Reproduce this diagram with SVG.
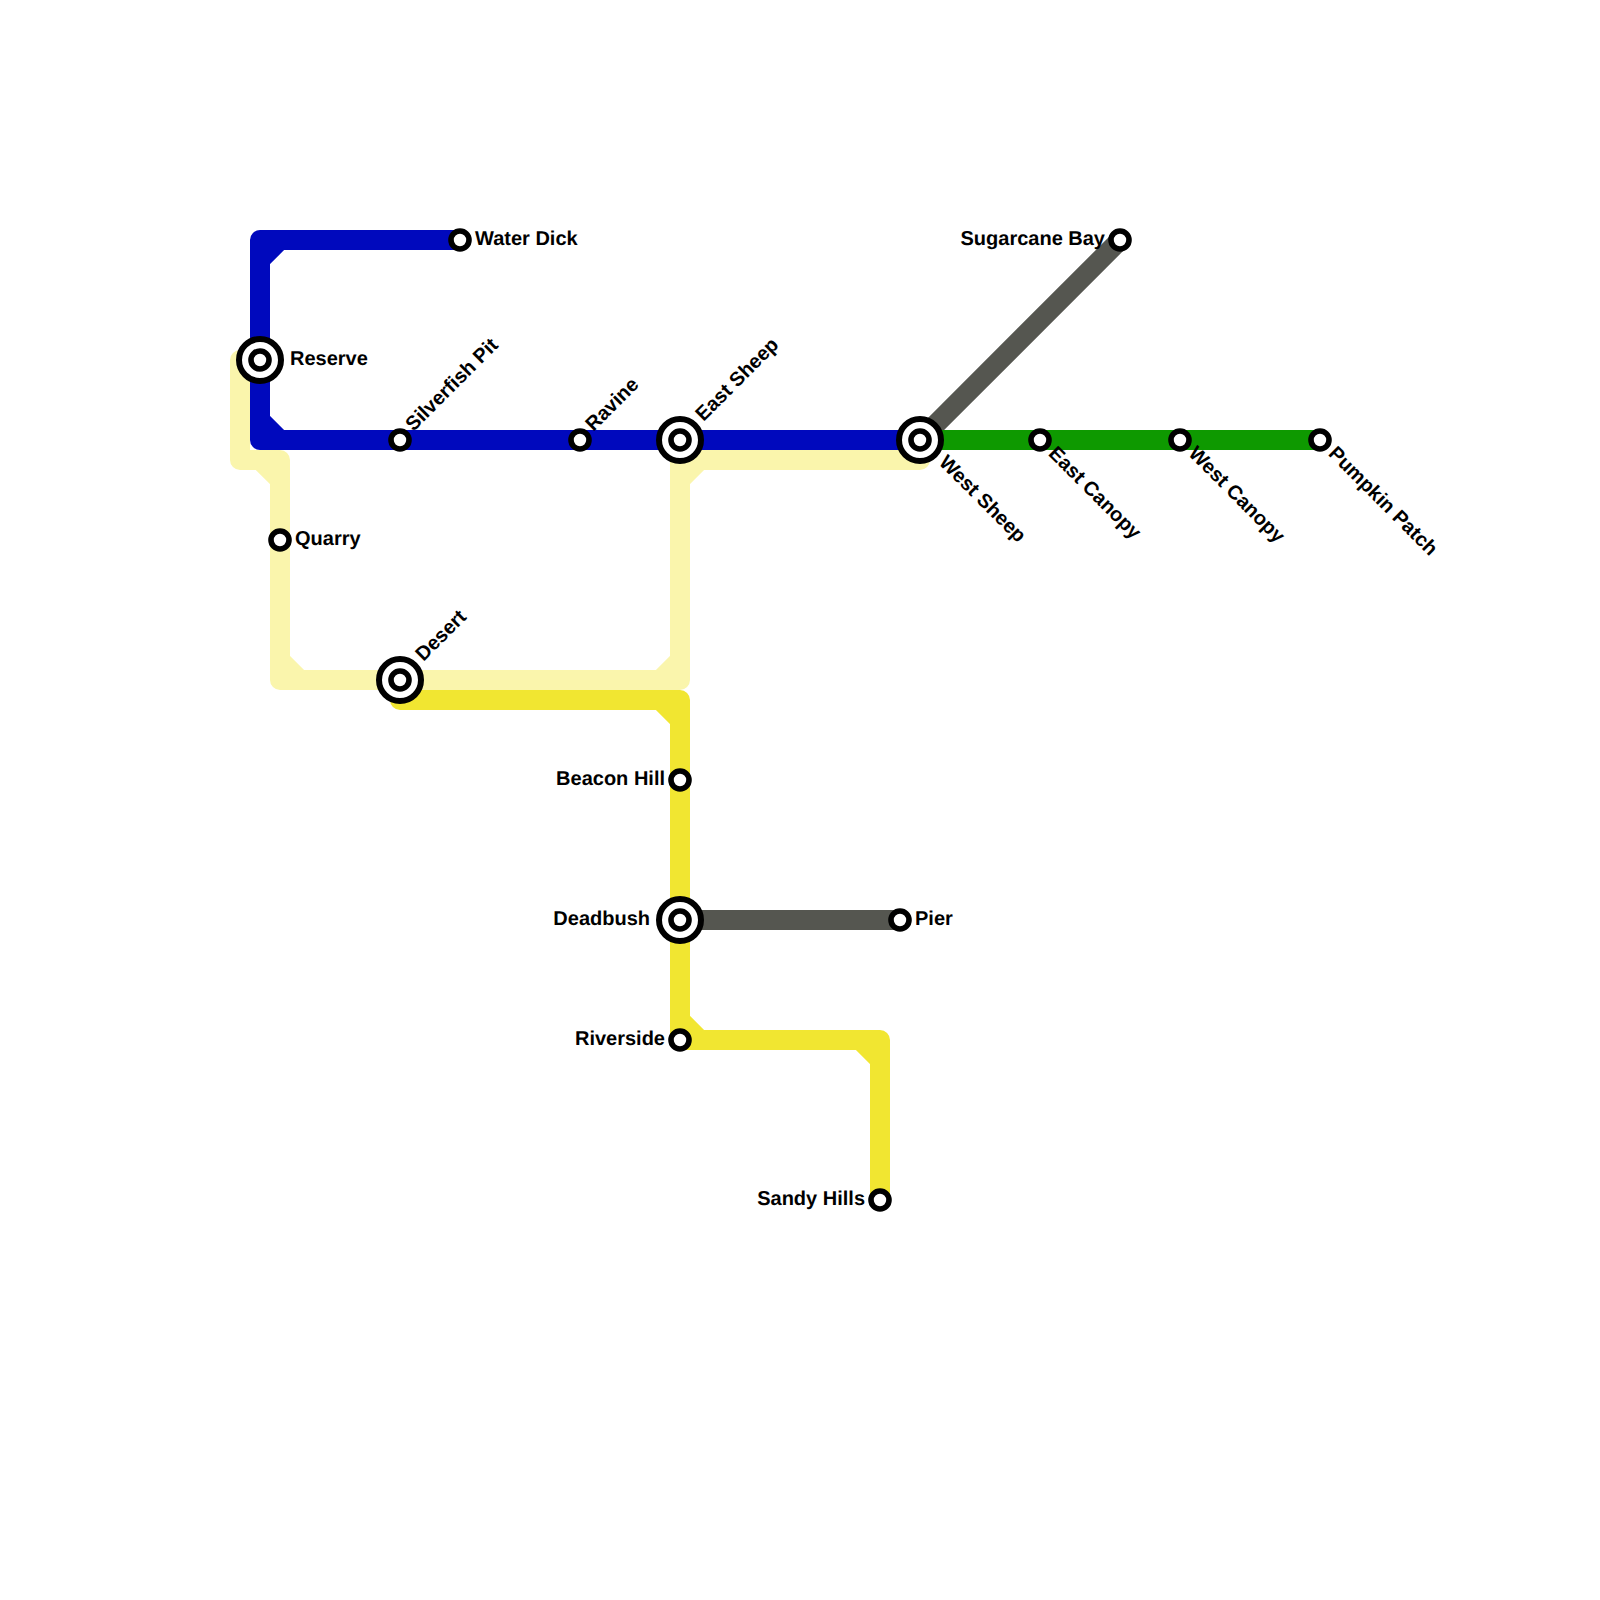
<svg xmlns="http://www.w3.org/2000/svg" width="1600" height="1600" viewBox="0 0 1600 1600">
<style>
.l{fill:none;stroke-width:20;stroke-linejoin:round}
.blue{stroke:#0009bd}.pale{stroke:#faf5ac}.yel{stroke:#f1e631}.gray{stroke:#555650}.green{stroke:#0e9900}
.r{fill:#fff;stroke:#000;stroke-width:5.6}
.R{fill:#fff;stroke:#000;stroke-width:6}
text{font-family:"Liberation Sans",Arial,sans-serif;font-weight:700;font-size:20px;fill:#000;text-rendering:geometricPrecision}
.e{text-anchor:end}
</style>
<defs>
<g id="small"><circle class="r" r="9"/></g>
<g id="big"><circle class="R" r="21"/><circle class="r" r="9"/></g>
</defs>
<g id="connectors">
<path class="l pale" d="M260 360H240V460H280V680H680V460H920V440M260 460L280 480M280 660L300 680M660 680L680 660M680 480L700 460"/>
<path class="l yel" d="M400 680V700H680V1040H880V1200M660 700L680 720M680 1020L700 1040M860 1040L880 1060"/>
<path class="l gray" d="M680 920H900M920 440L1120 240"/>
<path class="l green" d="M920 440H1320"/>
<path class="l blue" d="M460 240H260V440H920M260 260L280 240M260 420L280 440"/>
</g>
<g id="reserve"><use href="#big" x="260" y="360"/><text x="290" y="365">Reserve</text></g>
<g id="water-dick"><use href="#small" x="460" y="240"/><text x="475" y="245">Water Dick</text></g>
<g id="silverfish-pit"><use href="#small" x="400" y="440"/><text transform="translate(413.5 432) rotate(-45)">Silverfish Pit</text></g>
<g id="ravine"><use href="#small" x="580" y="440"/><text transform="translate(593.5 432) rotate(-45)">Ravine</text></g>
<g id="east-sheep"><use href="#big" x="680" y="440"/><text transform="translate(703.5 422) rotate(-45)">East Sheep</text></g>
<g id="west-sheep"><use href="#big" x="920" y="440"/><text transform="translate(938 463.5) rotate(45)">West Sheep</text></g>
<g id="east-canopy"><use href="#small" x="1040" y="440"/><text transform="translate(1047.5 454.5) rotate(45)">East Canopy</text></g>
<g id="west-canopy"><use href="#small" x="1180" y="440"/><text transform="translate(1187.5 454.5) rotate(45)">West Canopy</text></g>
<g id="pumpkin-patch"><use href="#small" x="1320" y="440"/><text transform="translate(1327.5 454.5) rotate(45)">Pumpkin Patch</text></g>
<g id="sugarcane-bay"><use href="#small" x="1120" y="240"/><text class="e" x="1105" y="245">Sugarcane Bay</text></g>
<g id="quarry"><use href="#small" x="280" y="540"/><text x="295" y="545">Quarry</text></g>
<g id="desert"><use href="#big" x="400" y="680"/><text transform="translate(423.5 662) rotate(-45)">Desert</text></g>
<g id="beacon-hill"><use href="#small" x="680" y="780"/><text class="e" x="665" y="785">Beacon Hill</text></g>
<g id="deadbush"><use href="#big" x="680" y="920"/><text class="e" x="650" y="925">Deadbush</text></g>
<g id="pier"><use href="#small" x="900" y="920"/><text x="915" y="925">Pier</text></g>
<g id="riverside"><use href="#small" x="680" y="1040"/><text class="e" x="665" y="1045">Riverside</text></g>
<g id="sandy-hills"><use href="#small" x="880" y="1200"/><text class="e" x="865" y="1205">Sandy Hills</text></g>
</svg>
